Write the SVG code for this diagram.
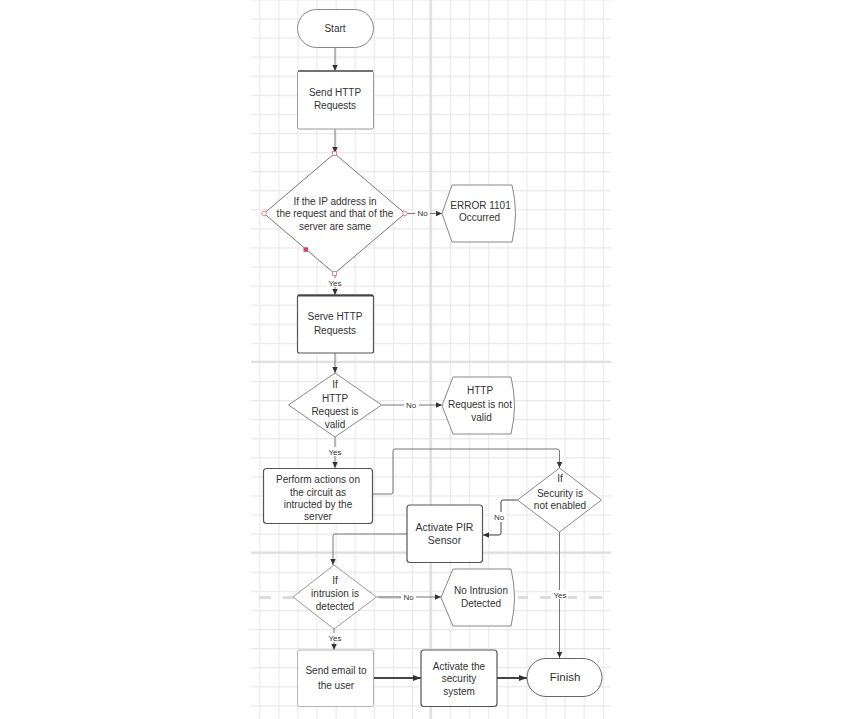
<svg xmlns="http://www.w3.org/2000/svg" width="862" height="719" viewBox="0 0 862 719">
  <defs>
    <pattern id="grid" patternUnits="userSpaceOnUse" x="259.3" y="18.4" width="19.08" height="19.08">
      <path d="M0 0.5 H19.08 M0.5 0 V19.08" fill="none" stroke="#e8e8e8" stroke-width="1.2"/>
    </pattern>
    <marker id="arr" markerUnits="userSpaceOnUse" markerWidth="7" markerHeight="7" refX="6" refY="3" orient="auto">
      <path d="M0,0.3 L6,3 L0,5.7 Z" fill="#333"/>
    </marker>
    <marker id="arrBig" markerUnits="userSpaceOnUse" markerWidth="9" markerHeight="8" refX="8" refY="3.5" orient="auto">
      <path d="M0,0.5 L8,3.5 L0,6.5 Z" fill="#333"/>
    </marker>
  </defs>
  <style>
    .txt { font-family: "Liberation Sans", Arial, sans-serif; font-size: 10px; fill: #333; text-anchor: middle; }
    .lbl { font-family: "Liberation Sans", Arial, sans-serif; font-size: 8px; fill: #333; text-anchor: middle; }
    .lblbg { fill: #fff; }
    .shape { fill: #fff; stroke: #888; stroke-width: 1; }
    .dark { stroke: #555; stroke-width: 1.2; }
    .light { stroke: #b5b5b5; }
    .conn { fill: none; stroke: #777; stroke-width: 1; marker-end: url(#arr); }
    .thick { fill: none; stroke: #444; stroke-width: 2; marker-end: url(#arrBig); }
    .handle { fill: #fff; stroke: #e58a8a; stroke-width: 1; }
  </style>

  <!-- canvas background and grid -->
  <rect x="0" y="0" width="862" height="719" fill="#fff"/>
  <rect x="251" y="0" width="360" height="719" fill="url(#grid)"/>
  <g id="major-lines" stroke="#dedede" stroke-width="2" fill="none">
    <path d="M430.5 0 V719"/>
    <path d="M251 361.8 H611"/>
    <path d="M251 552.4 H611"/>
  </g>
  <path id="page-break" d="M259 597.5 H271 M283 597.5 H295 M379 597.5 H401 M518 597.5 H528 M540 597.5 H551 M567 597.5 H577 M589 597.5 H602" stroke="#dcdcdc" stroke-width="3" fill="none"/>

  <!-- connectors -->
  <g id="connectors">
    <path class="conn" d="M335 47 V71"/>
    <path class="conn" d="M335 129 V153"/>
    <path class="conn" d="M405 213.5 H442"/>
    <path class="conn" d="M335 273.5 V295"/>
    <path class="conn" d="M335 353 V373"/>
    <path class="conn" d="M382 405 H442"/>
    <path class="conn" d="M335 437 V468"/>
    <path class="conn" d="M373 494 H391 Q393 494 393 492 V451 Q393 449 395 449 H557 Q559.5 449 559.5 451 V468"/>
    <path class="conn" style="stroke:#444" d="M517.5 500 H503 Q501 500 501 502 V533 Q501 535 499 535 H483"/>
    <path class="conn" d="M407 534 H335 Q333 534 333 536 V565"/>
    <path class="conn" d="M377 597 H441"/>
    <path class="conn" d="M334 629 V650"/>
    <path class="conn" d="M559.5 532 V658"/>
    <path class="thick" d="M373 678 H421"/>
    <path class="thick" d="M497 678 H527"/>

    <g id="labels">
      <rect class="lblbg" x="415" y="208" width="15" height="10"/>
      <text class="lbl" x="422.5" y="216">No</text>
      <rect class="lblbg" x="327" y="278" width="16" height="9"/>
      <text class="lbl" x="335" y="285.5">Yes</text>
      <rect class="lblbg" x="404" y="400" width="15" height="10"/>
      <text class="lbl" x="411" y="408">No</text>
      <rect class="lblbg" x="327" y="447" width="16" height="9"/>
      <text class="lbl" x="335" y="454.5">Yes</text>
      <rect class="lblbg" x="492" y="512" width="14" height="10"/>
      <text class="lbl" x="499" y="520">No</text>
      <rect class="lblbg" x="401" y="592" width="15" height="10"/>
      <text class="lbl" x="408.5" y="600">No</text>
      <rect class="lblbg" x="327" y="633" width="16" height="9"/>
      <text class="lbl" x="335" y="641">Yes</text>
      <rect class="lblbg" x="552" y="590" width="16" height="9"/>
      <text class="lbl" x="560" y="597.5">Yes</text>
    </g>
  </g>

  <!-- nodes -->
  <g id="start">
    <rect class="shape" x="297.5" y="9.5" width="76" height="38" rx="19"/>
    <text class="txt" x="335" y="31.5">Start</text>
  </g>

  <g id="send-http">
    <rect class="shape" x="297.5" y="71" width="76" height="58" rx="2" style="stroke:#999"/>
    <path d="M298 71 H373" stroke="#555" stroke-width="1.6"/>
    <text class="txt" x="335" y="95.5">Send HTTP</text>
    <text class="txt" x="335" y="109">Requests</text>
  </g>

  <g id="ip-check">
    <path class="shape" style="stroke:#777" d="M334.5 153.5 L405 213.5 L334.5 273.5 L264 213.5 Z"/>
    <text class="txt" x="335" y="204.5">If the IP address in</text>
    <text class="txt" x="335" y="216.5">the request and that of the</text>
    <text class="txt" x="335" y="230">server are same</text>
    <rect class="handle" x="332.5" y="151.5" width="4" height="4"/>
    <rect class="handle" x="332.5" y="271.5" width="4" height="4"/>
    <circle class="handle" cx="264" cy="213.5" r="2.3"/>
    <circle class="handle" cx="405" cy="213.5" r="2.3"/>
    <rect x="303.5" y="247.3" width="4.5" height="4.5" fill="#d9455a"/>
  </g>

  <g id="error-1101">
    <path class="shape" d="M452 185 H512 Q519 213.5 512 242 H452 L442 213.5 Z"/>
    <text class="txt" x="480.5" y="209.3">ERROR 1101</text>
    <text class="txt" x="479.5" y="221.3">Occurred</text>
  </g>

  <g id="serve-http">
    <rect class="shape dark" x="297.5" y="295" width="76" height="58" rx="2"/>
    <path d="M298 295.5 H373" stroke="#444" stroke-width="2"/>
    <text class="txt" x="335" y="320.3">Serve HTTP</text>
    <text class="txt" x="335" y="333.6">Requests</text>
  </g>

  <g id="request-valid">
    <path class="shape" d="M335 373 L381.5 405 L335 437 L288.5 405 Z"/>
    <text class="txt" x="335" y="388">If</text>
    <text class="txt" x="335" y="402">HTTP</text>
    <text class="txt" x="335" y="415.3">Request is</text>
    <text class="txt" x="335" y="427.6">valid</text>
  </g>

  <g id="request-invalid">
    <path class="shape" d="M453 377 H511 Q518 405.5 511 434 H453 L442 405.5 Z"/>
    <text class="txt" x="480" y="393.6">HTTP</text>
    <text class="txt" x="480" y="408">Request is not</text>
    <text class="txt" x="481.5" y="421.3">valid</text>
  </g>

  <g id="perform-actions">
    <rect class="shape dark" x="263.5" y="468.5" width="109" height="55" rx="3"/>
    <text class="txt" x="318" y="483">Perform actions on</text>
    <text class="txt" x="318" y="496.3">the circuit as</text>
    <text class="txt" x="318" y="508">intructed by the</text>
    <text class="txt" x="318" y="520.3">server</text>
  </g>

  <g id="security-check">
    <path class="shape" d="M559.5 468 L601.5 500 L559.5 532 L517.5 500 Z"/>
    <text class="txt" x="560" y="482">If</text>
    <text class="txt" x="560" y="497">Security is</text>
    <text class="txt" x="560" y="508.6">not enabled</text>
  </g>

  <g id="activate-pir">
    <rect class="shape dark" x="407" y="505" width="75.5" height="57.5" rx="3"/>
    <text class="txt" style="font-size:10.5px" x="444.5" y="531">Activate PIR</text>
    <text class="txt" style="font-size:10.5px" x="444.5" y="543.6">Sensor</text>
  </g>

  <g id="intrusion-check">
    <path class="shape" style="stroke:#999" d="M334 565 L376.5 597 L334 629 L293 597 Z"/>
    <text class="txt" x="335" y="583.6">If</text>
    <text class="txt" x="335" y="597">intrusion is</text>
    <text class="txt" x="335" y="609.6">detected</text>
  </g>

  <g id="no-intrusion">
    <path class="shape" d="M453 569 H511 Q518 597.5 511 626 H453 L441 597.5 Z"/>
    <text class="txt" x="481" y="593.6">No Intrusion</text>
    <text class="txt" x="481" y="607">Detected</text>
  </g>

  <g id="send-email">
    <rect class="shape light" x="297.5" y="650" width="76" height="56.5" rx="2"/>
    <text class="txt" x="336" y="674.3">Send email to</text>
    <text class="txt" x="336" y="688.6">the user</text>
  </g>

  <g id="activate-security">
    <rect class="shape dark" x="421" y="650" width="76" height="56.5" rx="3"/>
    <text class="txt" x="459" y="669.6">Activate the</text>
    <text class="txt" x="459" y="682">security</text>
    <text class="txt" x="459" y="695.3">system</text>
  </g>

  <g id="finish">
    <rect class="shape" style="stroke:#666" x="527" y="658.5" width="75" height="38" rx="19"/>
    <text class="txt" style="font-size:11.5px" x="565" y="680.8">Finish</text>
  </g>
</svg>
